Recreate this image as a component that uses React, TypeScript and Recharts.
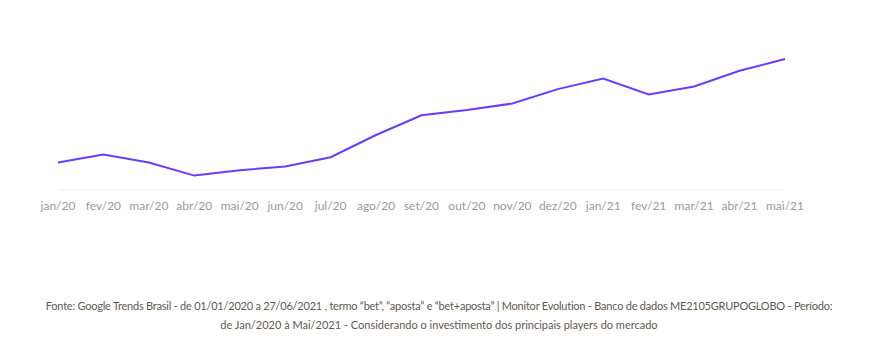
import React from "react";
import { LineChart, Line, XAxis, YAxis } from "recharts";

const months = [
  "jan/20", "fev/20", "mar/20", "abr/20", "mai/20", "jun/20", "jul/20", "ago/20", "set/20",
  "out/20", "nov/20", "dez/20", "jan/21", "fev/21", "mar/21", "abr/21", "mai/21",
];

const interest = [21, 27, 21, 11, 15, 18, 25, 42, 57, 61, 66, 77, 85, 73, 79, 91, 100];

const data = months.map((month, i) => ({ month, interest: interest[i] }));

const font = "Lato, 'Open Sans', sans-serif";

const App = () => (
  <div style={{ position: "absolute", left: 0, top: 0, width: 878, height: 342, background: "#fff", fontFamily: font }}>
    <LineChart width={878} height={230} data={data} margin={{ top: 59, right: 93, bottom: 0, left: 58 }}>
      <XAxis
        dataKey="month"
        height={40}
        axisLine={{ stroke: "#ececec" }}
        tickLine={false}
        tickMargin={5}
        interval={0}
        tick={{ fill: "#9a9a9a", fontSize: 12, fontFamily: font }}
      />
      <YAxis hide domain={[0, 100]} />
      <Line type="linear" dataKey="interest" stroke="#6b3cff" strokeWidth={2} dot={false} isAnimationActive={false} />
    </LineChart>
    <div style={{ position: "absolute", top: 296, left: 0, width: 878, textAlign: "center", fontSize: 11, lineHeight: "19px", color: "#5f5850" }}>
      <span style={{ letterSpacing: -0.23 }}>
        Fonte: Google Trends Brasil - de 01/01/2020 a 27/06/2021 , termo “bet”, “aposta” e “bet+aposta” | Monitor Evolution - Banco de dados ME2105GRUPOGLOBO - Período:
      </span>
      <br />
      de Jan/2020 à Mai/2021 - Considerando o investimento dos principais players do mercado
    </div>
  </div>
);

export default App;
